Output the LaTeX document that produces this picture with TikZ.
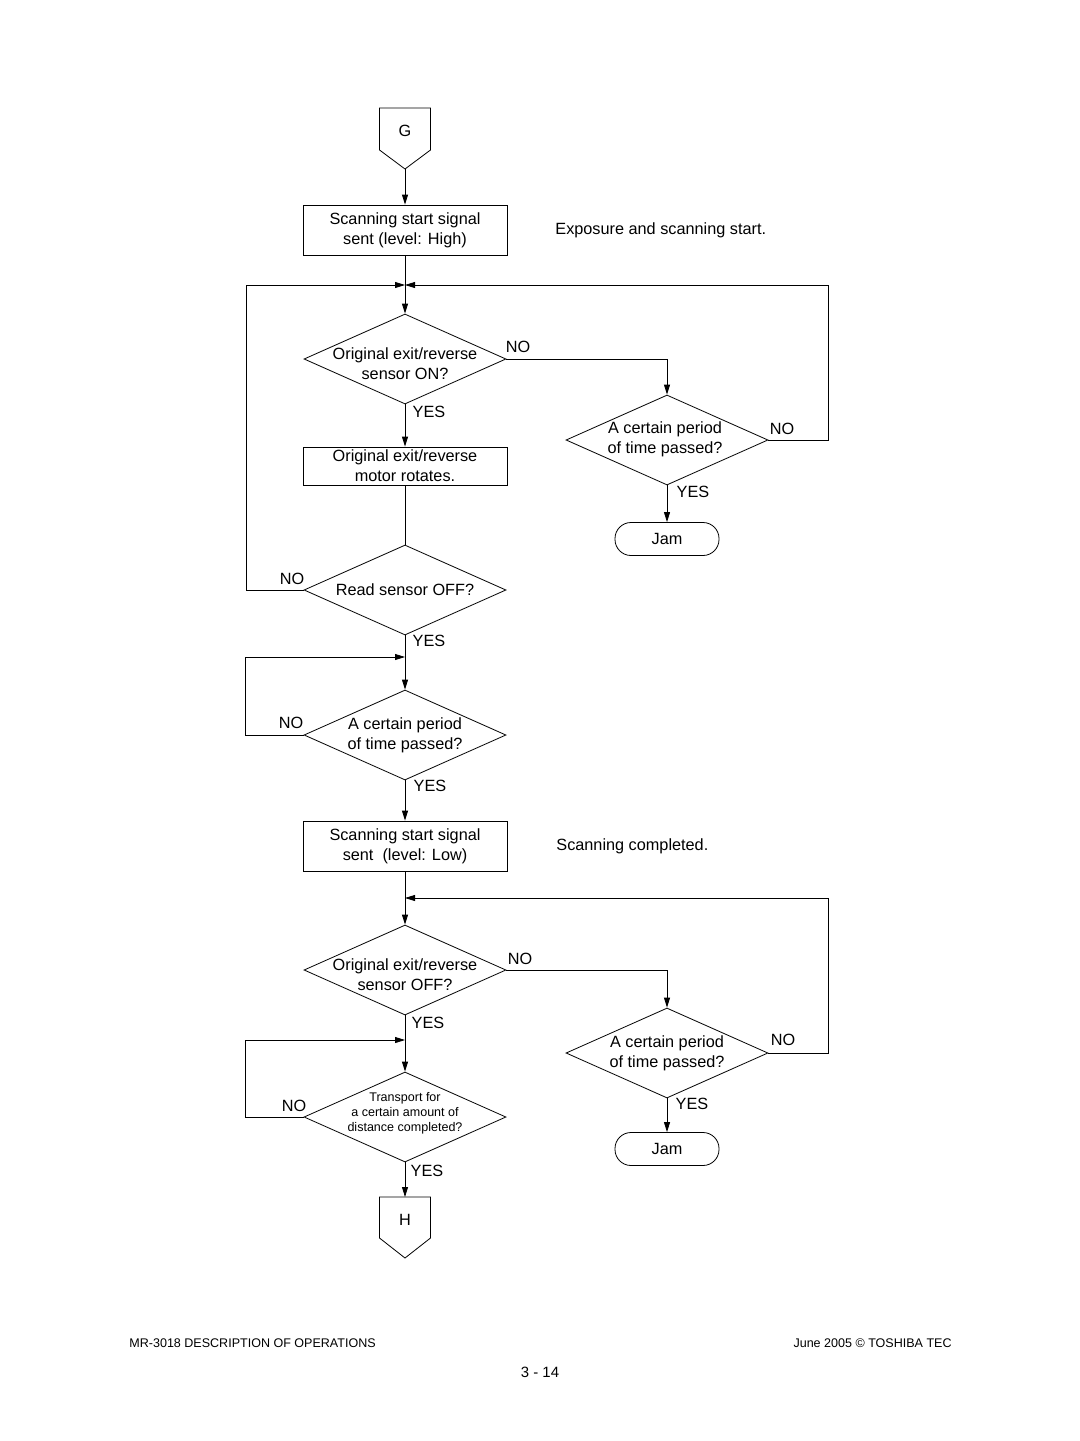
\documentclass[tikz,border=0pt]{standalone}
\usepackage{fontspec}
\setmainfont{Liberation Sans}
\usetikzlibrary{shapes.geometric,arrows.meta}
\newcommand\fmain{\fontsize{12.2}{15}\selectfont}
\newcommand\fsmall{\fontsize{9.4}{11.25}\selectfont}
\newcommand\fpage{\fontsize{11.2}{13}\selectfont}
\begin{document}
\begin{tikzpicture}[x=0.75pt,y=-0.75pt, line width=0.6pt,
  >={Triangle[length=7.5pt,width=4.5pt]},
  box/.style={draw, rectangle, minimum width=153pt, minimum height=37.5pt, inner sep=0pt, align=center, font=\fmain},
  dia/.style={draw, diamond, minimum width=151.5pt, minimum height=67.5pt, inner sep=0pt},
  jam/.style={draw, rectangle, rounded corners=12pt, minimum width=78pt, minimum height=24.75pt, inner sep=0pt, font=\fmain},
  txt/.style={inner sep=0pt, align=center, font=\fmain},
  lbl/.style={inner sep=0pt, font=\fmain}]
\fill[white] (0,0) rectangle (1080,1441);
\useasboundingbox (0,0) rectangle (1080,1441);

% connector G
\draw (379.5,108) -- (430.5,108) -- (430.5,150) -- (405,169) -- (379.5,150) -- cycle;
\node[lbl] (G) at (405,131) {G};
\coordinate (Gb) at (405,169);

\node[box] (b1) at (405,230) {Scanning start signal\\sent (level: High)};
\node[lbl, anchor=west] (n1) at (555,230) {Exposure and scanning start.};

\node[dia] (d1) at (405,359) {};
\node[txt] (t1) at (405,363.5) {Original exit/reverse\\sensor ON?};

\node[box, minimum height=28.5pt] (b2) at (405,466) {Original exit/reverse\\motor rotates.};

\node[dia] (d2) at (667,440) {};
\node[txt] (t2) at (665,439) {A certain period\\of time passed?};
\node[jam] (j1) at (667,539) {Jam};

\node[dia] (d3) at (405,590) {};
\node[txt] (t3) at (405,590) {Read sensor OFF?};

\node[dia] (d4) at (405,735) {};
\node[txt] (t4) at (405,735) {A certain period\\of time passed?};

\node[box] (b3) at (405,846) {Scanning start signal\\sent\ \ (level: Low)};
\node[lbl, anchor=west] (n2) at (556,846) {Scanning completed.};

\node[dia] (d5) at (405,970) {};
\node[txt] (t5) at (405,974.5) {Original exit/reverse\\sensor OFF?};

\node[dia] (d6) at (667,1053) {};
\node[txt] (t6) at (667,1053) {A certain period\\of time passed?};
\node[jam] (j2) at (667,1149) {Jam};

\node[dia] (d7) at (405,1117) {};
\node[txt, font=\fsmall] (t7) at (405,1113) {Transport for\\a certain amount of\\distance completed?};

% connector H
\draw (379.5,1197) -- (430.5,1197) -- (430.5,1238) -- (405,1258) -- (379.5,1238) -- cycle;
\node[lbl] (H) at (405,1220) {H};
\coordinate (Ht) at (405,1197);

% merge points and corners
\coordinate (m1) at (405,285);
\coordinate (rx1) at (828,285);
\coordinate (lx1) at (246,285);
\coordinate (m3) at (405,657);
\coordinate (lx3) at (245,657);
\coordinate (m5) at (405,898);
\coordinate (rx5) at (828,898);
\coordinate (m7) at (405,1040);
\coordinate (lx7) at (245,1040);

% connectors
\draw[->] (Gb) -- (b1.north);
\draw[->] (b1.south) -- (d1.north);
\draw[->] (d2.east) -| (rx1) -- (m1);
\draw[->] (d3.west) -| (lx1) -- (m1);
\draw[->] (d1.east) -| (d2.north);
\draw[->] (d1.south) -- (b2.north);
\draw (b2.south) -- (d3.north);
\draw[->] (d2.south) -- (j1.north);
\draw[->] (d3.south) -- (d4.north);
\draw[->] (d4.west) -| (lx3) -- (m3);
\draw[->] (d4.south) -- (b3.north);
\draw[->] (b3.south) -- (d5.north);
\draw[->] (d5.east) -| (d6.north);
\draw[->] (d6.east) -| (rx5) -- (m5);
\draw[->] (d6.south) -- (j2.north);
\draw[->] (d5.south) -- (d7.north);
\draw[->] (d7.west) -| (lx7) -- (m7);
\draw[->] (d7.south) -- (Ht);

% labels
\node[lbl] (no1) at (518,347) {NO};
\node[lbl] (yes1) at (429,412) {YES};
\node[lbl] (no2) at (782,429) {NO};
\node[lbl] (yes2) at (693,492) {YES};
\node[lbl] (no3) at (292,579) {NO};
\node[lbl] (yes3) at (429,641) {YES};
\node[lbl] (no4) at (291,723) {NO};
\node[lbl] (yes4) at (430,786) {YES};
\node[lbl] (no5) at (520,959) {NO};
\node[lbl] (yes5) at (428,1023) {YES};
\node[lbl] (no6) at (783,1040) {NO};
\node[lbl] (yes6) at (692,1104) {YES};
\node[lbl] (no7) at (294,1106) {NO};
\node[lbl] (yes7) at (427,1171) {YES};

% footer
\node[inner sep=0pt, anchor=west, font=\fsmall] (f1) at (129,1343) {MR-3018 DESCRIPTION OF OPERATIONS};
\node[inner sep=0pt, anchor=east, font=\fsmall] (f2) at (952,1343) {June 2005 \textcopyright{} TOSHIBA TEC};
\node[inner sep=0pt, font=\fpage] (f3) at (540,1372) {3 - 14};
\end{tikzpicture}
\end{document}
